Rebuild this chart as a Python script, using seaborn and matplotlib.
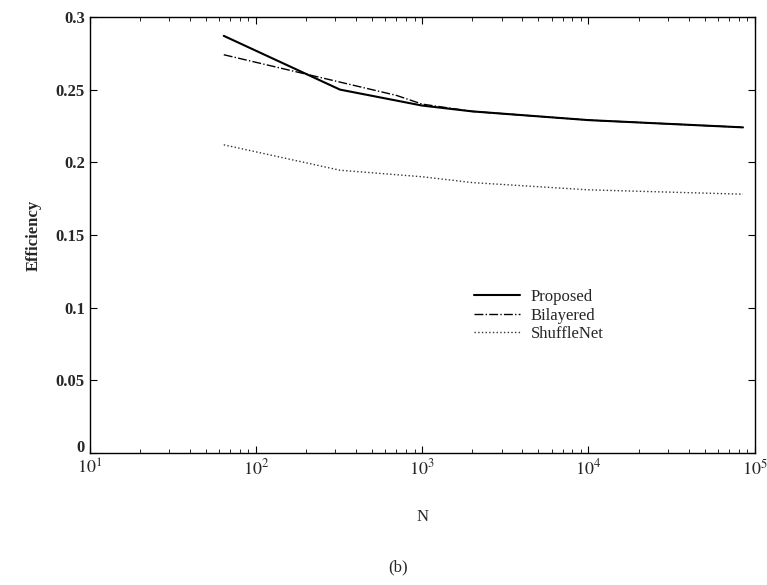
import matplotlib
matplotlib.use("Agg")
import matplotlib.pyplot as plt
import matplotlib.transforms as mtransforms
import seaborn as sns
import pandas as pd
import numpy as np

N_proposed = [64, 320, 1000, 2000, 10000, 85000]
eff_proposed = [0.287, 0.250, 0.239, 0.235, 0.229, 0.224]

N_bilayered = [64, 700, 1000, 2000, 10000, 85000]
eff_bilayered = [0.274, 0.246, 0.240, 0.235, 0.229, 0.224]

N_shuffle = [64, 320, 1000, 2000, 10000, 85000]
eff_shuffle = [0.212, 0.1945, 0.190, 0.186, 0.181, 0.178]

series_names = ["Proposed", "Bilayered", "ShuffleNet"]
x_ticks = [10, 100, 1000, 10000, 100000]
x_ticklabels = ["$10^1$", "$10^2$", "$10^3$", "$10^4$", "$10^5$"]
y_ticks = [0, 0.05, 0.1, 0.15, 0.2, 0.25, 0.3]
y_ticklabels = ["0", "0.05", "0.1", "0.15", "0.2", "0.25", "0.3"]

df = pd.concat([
    pd.DataFrame({"N": N_proposed, "Efficiency": eff_proposed, "Scheme": series_names[0]}),
    pd.DataFrame({"N": N_bilayered, "Efficiency": eff_bilayered, "Scheme": series_names[1]}),
    pd.DataFrame({"N": N_shuffle, "Efficiency": eff_shuffle, "Scheme": series_names[2]}),
])

sns.set_style("ticks")
plt.rcParams["font.family"] = ["Liberation Serif", "DejaVu Serif"]
plt.rcParams["mathtext.fontset"] = "stix"

fig = plt.figure(figsize=(7.67, 5.85), dpi=100)
ax = fig.add_axes([0.117, 0.226, 0.867, 0.745])

styles = {"Proposed": ("-", 1.5, "black"), "Bilayered": ("-.", 1.0, "black"),
          "ShuffleNet": (":", 1.0, "#333333")}
for name in series_names:
    sub = df[df["Scheme"] == name]
    ls, lw, c = styles[name]
    sns.lineplot(data=sub, x="N", y="Efficiency", ax=ax, color=c,
                 linestyle=ls, linewidth=lw, label=name, estimator=None, sort=False)

ax.set_xscale("log")
ax.set_xlim(10, 100000)
ax.set_ylim(0, 0.3)
ax.set_xticks(x_ticks)
ax.set_xticklabels(x_ticklabels, fontsize=13)
ax.set_yticks(y_ticks)
ax.set_yticklabels(y_ticklabels, fontsize=12, fontweight="bold")
ax.tick_params(which="both", direction="in", top=True, right=True, color="black")
ax.tick_params(which="major", length=5)
ax.tick_params(which="minor", length=3)
ax.tick_params(axis="x", pad=4)
ax.xaxis.set_minor_locator(matplotlib.ticker.LogLocator(base=10, subs=np.arange(2, 10)))
ax.yaxis.set_minor_locator(matplotlib.ticker.NullLocator())
for s in ax.spines.values():
    s.set_visible(True)
    s.set_color("black")
    s.set_linewidth(1.0)

# nudge the "0" y label up slightly so it sits above the 10^1 label as in the reference
zero_lab = ax.get_yticklabels()[0]
zero_lab.set_transform(zero_lab.get_transform() +
                       mtransforms.ScaledTranslation(0, 5 / 72, fig.dpi_scale_trans))

ax.set_xlabel("N", fontsize=12, labelpad=22)
ax.set_ylabel("Efficiency", fontsize=12, fontweight="bold", labelpad=10)

leg = ax.legend(loc="upper left", bbox_to_anchor=(0.555, 0.41), frameon=False,
                fontsize=12, handlelength=2.8, handletextpad=0.6, labelspacing=0.15)

fig.text(0.519, 0.017, "(b)", ha="center", va="bottom", fontsize=12)

fig.savefig("out.png", dpi=100, facecolor="white")
